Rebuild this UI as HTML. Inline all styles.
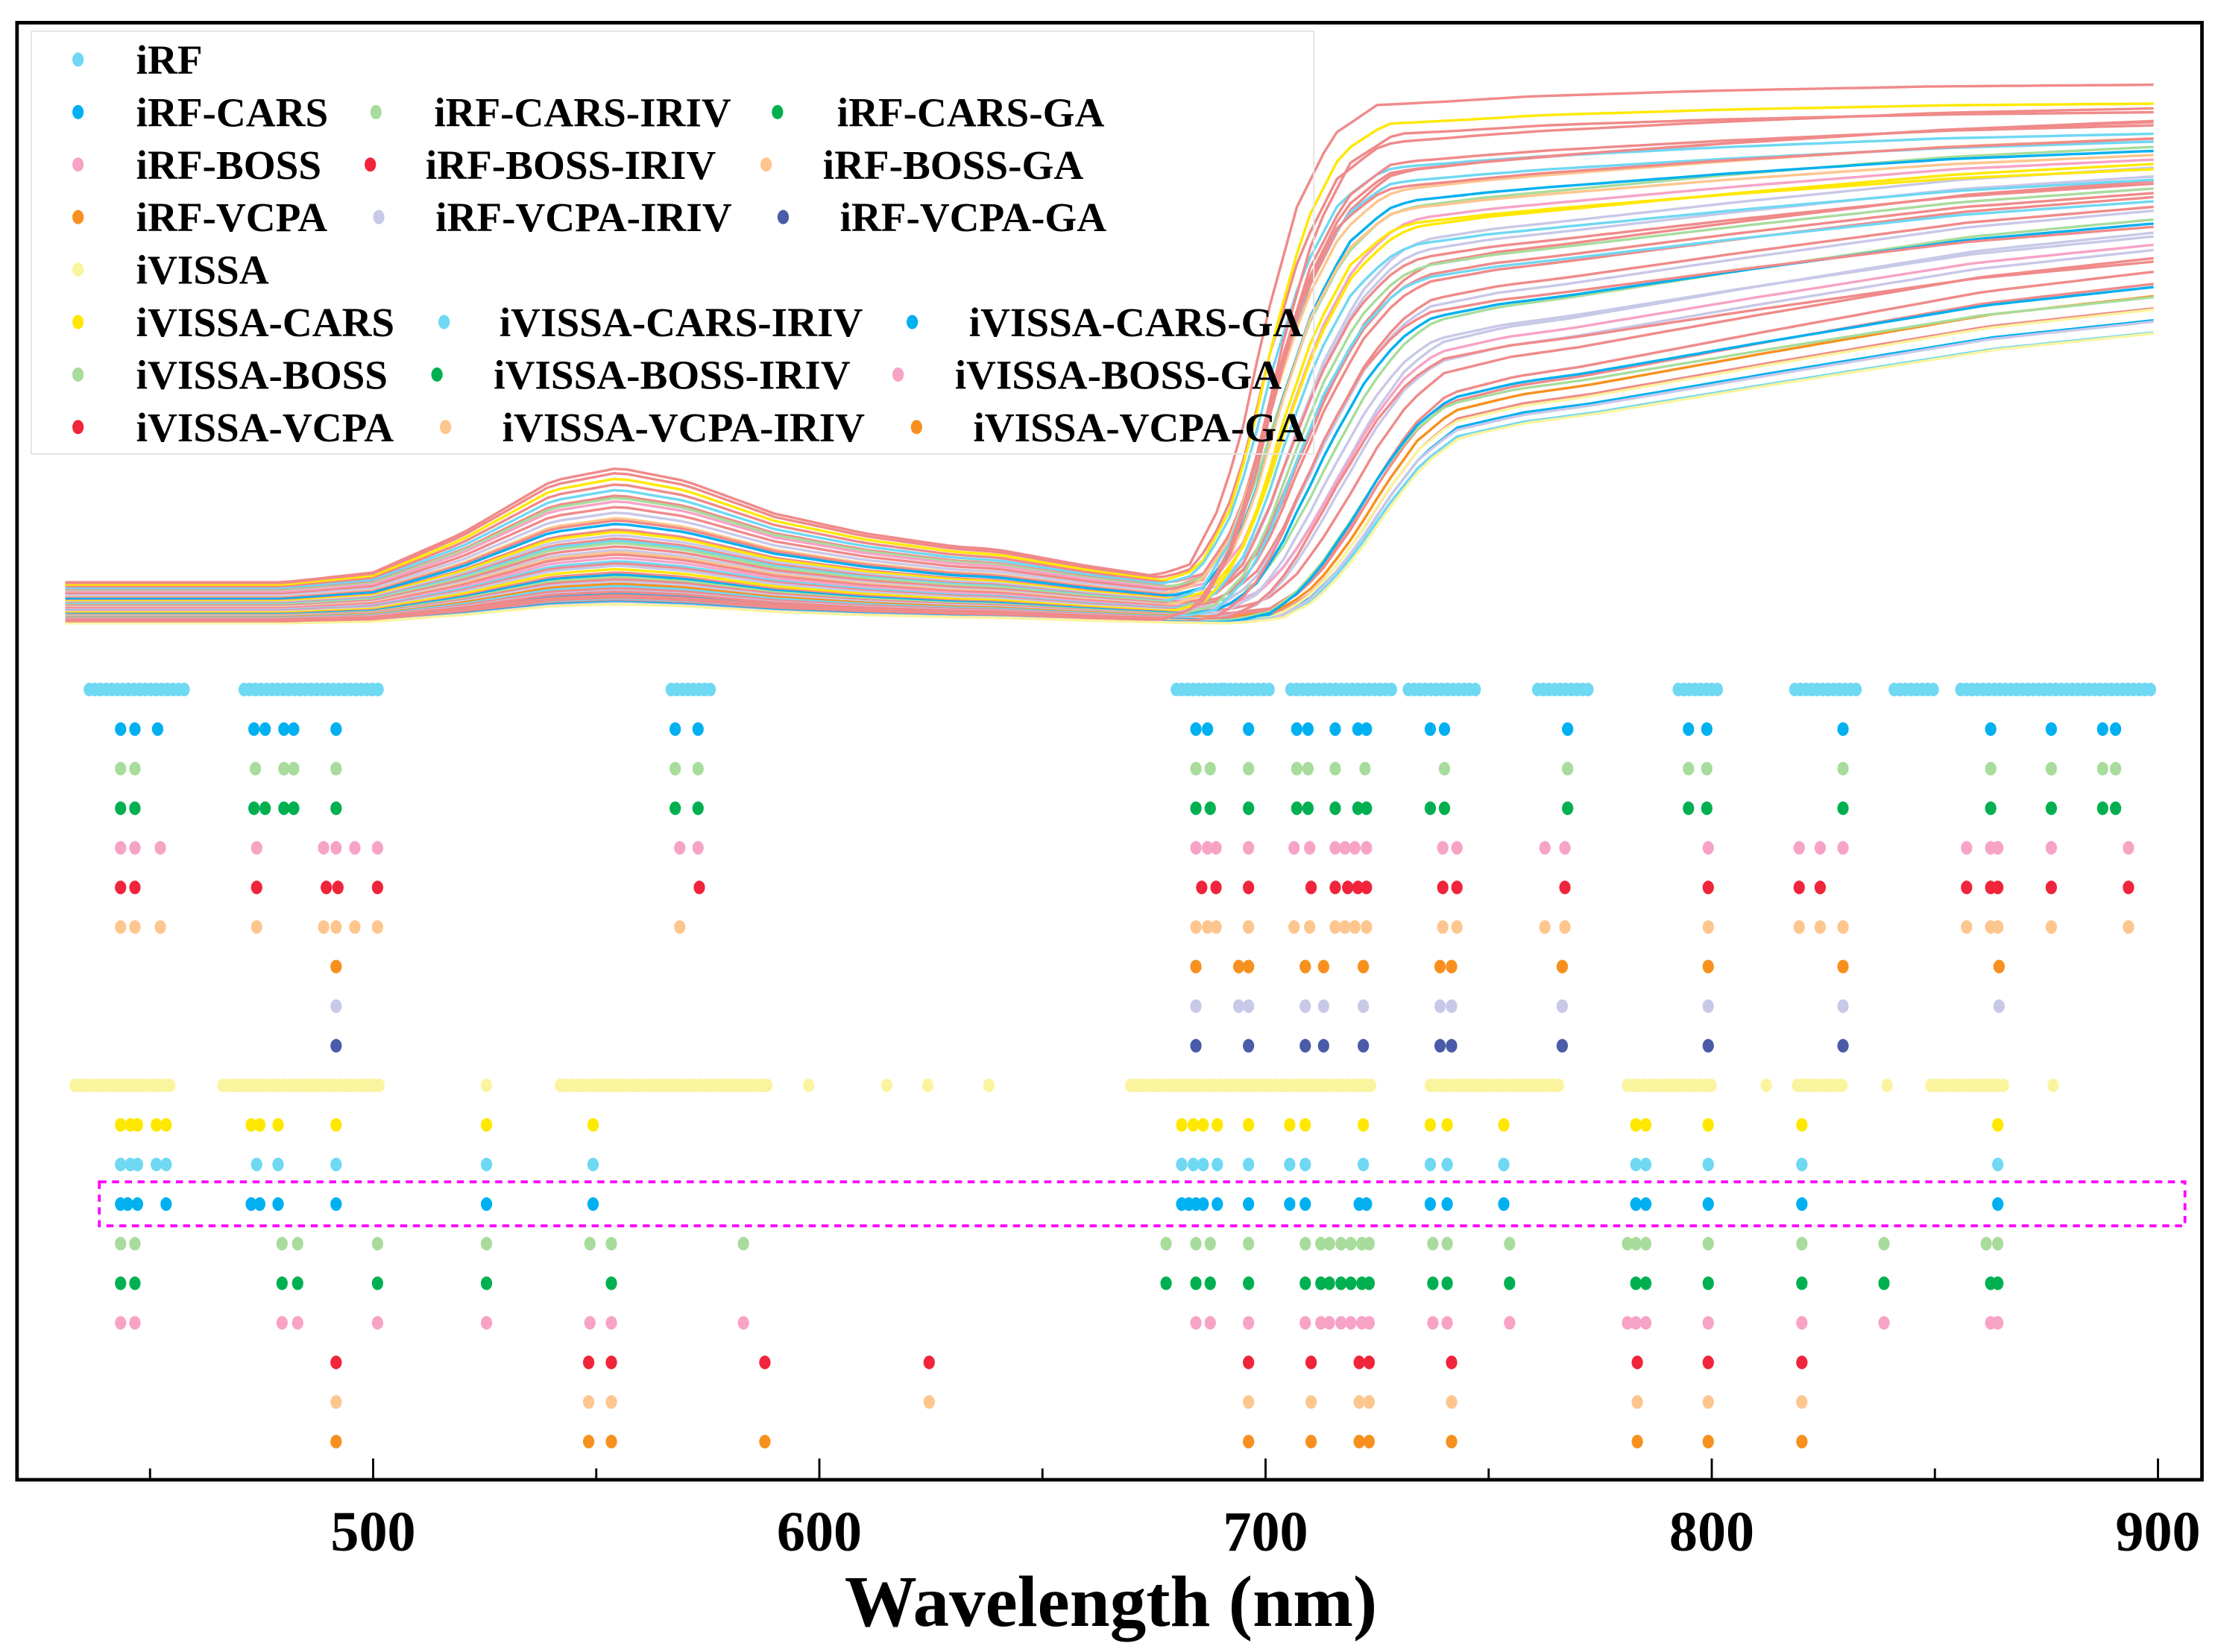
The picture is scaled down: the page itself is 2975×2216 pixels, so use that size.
<!DOCTYPE html>
<html><head><meta charset="utf-8"><style>
html,body{margin:0;padding:0;background:#fff;}
svg{display:block;}
text{font-family:"Liberation Serif",serif;font-weight:bold;fill:#000;}
</style></head><body>
<svg id="chart" width="2975" height="2216" viewBox="0 0 1563.3 1164.4" preserveAspectRatio="none" xmlns="http://www.w3.org/2000/svg">
<g id="spectra"></g>
<g id="dots"></g>
<rect x="70" y="833" width="1470" height="31" fill="none" stroke="#ff00ff" stroke-width="2" stroke-dasharray="5,4"/>
<rect x="22" y="22" width="904" height="298" fill="none" stroke="#e4e4e4" stroke-width="1"/>
<g id="legend"></g>
<rect x="12" y="16" width="1540" height="1027" fill="none" stroke="#000" stroke-width="2.5"/>
<g id="axis"></g>
<text x="783" y="1146" font-size="51" text-anchor="middle">Wavelength (nm)</text>
</svg>
<script>
// ---- data ----
const seriesNames = ["iRF","iRF-CARS","iRF-CARS-IRIV","iRF-CARS-GA","iRF-BOSS","iRF-BOSS-IRIV","iRF-BOSS-GA","iRF-VCPA","iRF-VCPA-IRIV","iRF-VCPA-GA","iVISSA","iVISSA-CARS","iVISSA-CARS-IRIV","iVISSA-CARS-GA","iVISSA-BOSS","iVISSA-BOSS-IRIV","iVISSA-BOSS-GA","iVISSA-VCPA","iVISSA-VCPA-IRIV","iVISSA-VCPA-GA"];
const seriesColors = ["#6fd8f3","#00b0f0","#a8dc9c","#00b050","#f7a3c6","#f0243a","#fdc68e","#f7901e","#c8c8e8","#4a5ba8","#fbf49e","#ffe800","#6fd8f3","#00b0f0","#a8dc9c","#00b050","#f7a3c6","#f0243a","#fdc68e","#f7901e"];
const irfBands = [[436.4,457.7],[471.1,502.2],[566.8,575.7],[680,690],[690.8,701],[705.7,729],[732,747.7],[761,773],[792.5,801.7],[818.6,833.5],[840.9,850.4],[855.8,899]];
const ivissaBands = [[433.2,454.5],[466.3,501.6],[525.4,525.4],[542,588.4],[597.6,597.6],[615.1,615.1],[624.3,624.3],[638,638],[669.8,724.2],[736.9,766.5],[781.1,800.5],[812.2,812.2],[819.2,830.4],[839.3,839.3],[849.1,865.7],[876.5,876.5]];
const irfCars = [443.4,446.6,451.7,473.3,475.8,480,482.2,491.7,567.7,572.8,684.4,687,696.2,707,709.5,715.6,720.7,722.6,736.9,740.1,767.7,794.8,798.9,829.4,862.5,876.1,887.6,890.5];
const irfCarsIriv = [443.4,446.6,473.6,480,482.2,491.7,567.7,572.8,684.4,687.6,696.2,707,709.5,715.6,722.3,740.1,767.7,794.8,798.9,829.4,862.5,876.1,887.6,890.5];
const irfCarsGa = [443.4,446.6,473.3,475.8,480,482.2,491.7,567.7,572.8,684.4,687.6,696.2,707,709.5,715.6,720.7,722.6,736.9,740.1,767.7,794.8,798.9,829.4,862.5,876.1,887.6,890.5];
const irfBoss = [443.4,446.6,452.3,473.9,488.9,491.7,495.9,501,568.7,572.8,684.4,687,688.9,696.2,706.4,709.9,715.6,717.8,720,722.6,739.7,742.9,762.6,767.1,799.2,819.6,824.3,829.4,857.1,862.5,864.1,876.1,893.4];
const irfBossIriv = [443.4,446.6,473.9,489.5,492.1,501,573.1,685.7,688.9,696.2,710.2,715.6,718.4,720.7,722.6,739.7,742.9,767.1,799.2,819.6,824.3,857.1,862.5,864.1,876.1,893.4];
const irfBossGa = [443.4,446.6,452.3,473.9,488.9,491.7,495.9,501,568.7,684.4,687,688.9,696.2,706.4,709.9,715.6,717.8,720,722.6,739.7,742.9,762.6,767.1,799.2,819.6,824.3,829.4,857.1,862.5,864.1,876.1,893.4];
const irfVcpa = [491.7,684.4,694,696.2,708.9,713,721.9,739.1,741.7,766.5,799.2,829.4,864.4];
const irfVcpaIriv = [491.7,684.4,694,696.2,708.9,713,721.9,739.1,741.7,766.5,799.2,829.4,864.4];
const irfVcpaGa = [491.7,684.4,696.2,708.9,713,721.9,739.1,741.7,766.5,799.2,829.4];
const ivCars = [443.4,445.6,447.2,451.4,453.6,472.7,474.6,478.7,491.7,525.4,549.3,681.2,683.8,686,689.2,696.2,705.4,708.9,721.9,736.9,740.7,753.4,783,785.2,799.2,820.2,864.1];
const ivCarsIriv = [443.4,445.6,447.2,451.4,453.6,473.9,478.7,491.7,525.4,549.3,681.2,683.8,686,689.2,696.2,705.4,708.9,721.9,736.9,740.7,753.4,783,785.2,799.2,820.2,864.1];
const ivCarsGa = [443.4,445,447.2,453.6,472.7,474.6,478.7,491.7,525.4,549.3,681.2,682.8,684.4,686,689.2,696.2,705.4,708.9,721,722.6,736.9,740.7,753.4,783,785.2,799.2,820.2,864.1];
const ivBoss = [443.4,446.6,479.6,483.1,501,525.4,548.6,553.4,583,677.7,684.4,687.6,696.2,708.9,712.4,714.3,716.9,719.1,721.6,723.2,737.5,740.7,754.7,781.1,783,785.2,799.2,820.2,838.6,861.5,864.1];
const ivBossIriv = [443.4,446.6,479.6,483.1,501,525.4,553.4,677.7,684.4,687.6,696.2,708.9,712.4,714.3,716.9,719.1,721.6,723.2,737.5,740.7,754.7,783,785.2,799.2,820.2,838.6,862.5,864.1];
const ivBossGa = [443.4,446.6,479.6,483.1,501,525.4,548.6,553.4,583,684.4,687.6,696.2,708.9,712.4,714.3,716.9,719.1,721.6,723.2,737.5,740.7,754.7,781.1,783,785.2,799.2,820.2,838.6,862.5,864.1];
const ivVcpa = [491.7,548.3,553.4,587.8,624.6,696.2,710.2,721,723.2,741.7,783.3,799.2,820.2];
const ivVcpaIriv = [491.7,548.3,553.4,624.6,696.2,710.2,721,723.2,741.7,783.3,799.2,820.2];
const ivVcpaGa = [491.7,548.3,553.4,587.8,696.2,710.2,721,723.2,741.7,783.3,799.2,820.2];
// spectra sample parameters
const greenPeak = [.144,.14,.135,.13,.125,.12,.118,.115,.11,.105,.1,.098,.095,.09,.088,.085,.082,.08,.078,.075,.072,.07,.068,.065,.062,.06,.058,.055,.052,.05,.048,.046,.044,.042,.04,.038,.036,.034,.032,.03,.029,.028,.027,.026,.025,.024,.03,.035];
const nirLevel = [.46,.44,.445,.43,.42,.44,.41,.40,.43,.395,.42,.385,.41,.375,.40,.39,.365,.42,.355,.385,.345,.41,.375,.335,.39,.325,.365,.40,.315,.355,.385,.305,.345,.295,.375,.285,.335,.275,.325,.295,.285,.265,.355,.305,.275,.265,.43,.445];
const edgeSlow = [0,.1,0,.2,.1,0,.3,.3,.1,.4,.2,.5,.2,.5,.3,.4,.6,.1,.7,.4,.8,.2,.5,.8,.3,.9,.6,.2,1,.6,.4,1,.7,1,.4,1,.8,1,.7,.9,1,1,.5,.9,1,1,.1,.1];
const edgeShift = [0,1,2,3,1.5,4,2.5,5,3,6,2,7,3.5,6,4.5,5.5,7.5,2.5,8,5,9,3,6.5,8.5,4.5,10,7,4,11,7.5,5.5,11,8,12,6,12.5,9,13,9.5,11,12,13,7,11.5,12.5,13.5,1.5,2.5];
const sampleColors = ["#f08a8a","#f08a8a","#ffe800","#f08a8a","#6fd8f3","#f08a8a","#a8dc9c","#f7a3c6","#f08a8a","#c8c8e8","#fdc68e","#f08a8a","#00b0f0","#f08a8a","#ffe800","#c8c8e8","#f08a8a","#6fd8f3","#a8dc9c","#f08a8a","#c8c8e8","#fdc68e","#f08a8a","#f7a3c6","#6fd8f3","#f08a8a","#c8c8e8","#ffe800","#f08a8a","#00b0f0","#a8dc9c","#f08a8a","#c8c8e8","#f7901e","#6fd8f3","#f08a8a","#c8c8e8","#00b0f0","#f08a8a","#a8dc9c","#fbf49e","#6fd8f3","#f08a8a","#00b0f0","#c8c8e8","#fbf49e","#f08a8a","#f08a8a"];
const visWl = [430,480,500,520,540,555,570,590,610,630,640,660,680,690,700,900];
const visShape = [.3,.3,.36,.6,.92,1,.92,.72,.6,.52,.5,.4,.32,.3,.3,.15];
const sharpWl = [675,683,690,695,700,707,715,725,740,760,780,800,850,900];
const nirSharp = [0,.03,.15,.3,.5,.72,.86,.92,.93,.945,.955,.965,.985,1];
const slowWl = [680,690,697,702,708,715,722,730,745,760,780,800,850,900];
const nirSlow = [0,.015,.07,.14,.25,.4,.53,.62,.67,.7,.75,.8,.92,1];
const xTicks = [500,600,700,800,900];
const xMinor = [450,550,650,750,850];

// ---- scales ----
const X = nm => 263 + (nm - 500) * 3.145;
const Y = r => 445 - r * 800;
const NS = "http://www.w3.org/2000/svg";
function interp(xs, ys, v){ if(v<=xs[0]) return ys[0]; for(let i=1;i<xs.length;i++){ if(v<=xs[i]){const t=(v-xs[i-1])/(xs[i]-xs[i-1]);return ys[i-1]+t*(ys[i]-ys[i-1]);} } return ys[ys.length-1]; }

const spec = document.getElementById('spectra');
for(let k=0;k<greenPeak.length;k++){
  let d="";
  for(let w=431; w<=900; w+=3){
    const v = greenPeak[k]*interp(visWl,visShape,w);
    const ws = w - edgeShift[k];
    const n = (1-edgeSlow[k])*interp(sharpWl,nirSharp,ws) + edgeSlow[k]*interp(slowWl,nirSlow,ws);
    const r = v + nirLevel[k]*n;
    d += (d?"L":"M") + X(w).toFixed(1) + " " + Y(r).toFixed(1);
  }
  const p = document.createElementNS(NS,'path');
  p.setAttribute('d',d); p.setAttribute('fill','none'); p.setAttribute('stroke',sampleColors[k]); p.setAttribute('stroke-width','1.8');
  
  
  spec.appendChild(p);
}

const rows = [irfBands,irfCars,irfCarsIriv,irfCarsGa,irfBoss,irfBossIriv,irfBossGa,irfVcpa,irfVcpaIriv,irfVcpaGa,ivissaBands,ivCars,ivCarsIriv,ivCarsGa,ivBoss,ivBossIriv,ivBossGa,ivVcpa,ivVcpaIriv,ivVcpaGa];
const dots = document.getElementById('dots');
rows.forEach((arr,i)=>{
  const y = 486 + i*27.9;
  const g = document.createElementNS(NS,'g');
  
  
  const pts = [];
  arr.forEach(v=>{ if(Array.isArray(v)){ for(let w=v[0]; w<=v[1]+0.01; w+=1.25) pts.push(w); } else pts.push(v); });
  pts.forEach(w=>{
    const e = document.createElementNS(NS,'ellipse');
    e.setAttribute('cx',X(w).toFixed(1)); e.setAttribute('cy',y.toFixed(1)); e.setAttribute('rx','4'); e.setAttribute('ry','4.8'); e.setAttribute('fill',seriesColors[i]);
    
    
    g.appendChild(e);
  });
  dots.appendChild(g);
});

const legendLayout = [[0,55,96,42],[1,55,96,79],[2,265,306,79],[3,548,590,79],[4,55,96,116],[5,261,300,116],[6,540,580,116],[7,55,96,153],[8,267,307,153],[9,552,592,153],[10,55,96,190],[11,55,96,227],[12,313,352,227],[13,643,683,227],[14,55,96,264],[15,308,348,264],[16,633,673,264],[17,55,96,301],[18,314,354,301],[19,646,686,301]];
const leg = document.getElementById('legend');
legendLayout.forEach(([i,mx,tx,y])=>{
  const g = document.createElementNS(NS,'g');
  
  
  const e = document.createElementNS(NS,'ellipse');
  e.setAttribute('cx',mx); e.setAttribute('cy',y); e.setAttribute('rx','4'); e.setAttribute('ry','5'); e.setAttribute('fill',seriesColors[i]);
  g.appendChild(e);
  const t = document.createElementNS(NS,'text');
  t.setAttribute('x',tx); t.setAttribute('y',y+10); t.setAttribute('font-size','29');
  t.textContent = seriesNames[i];
  g.appendChild(t);
  leg.appendChild(g);
});

const ax = document.getElementById('axis');
xTicks.forEach(v=>{
  const l = document.createElementNS(NS,'line');
  l.setAttribute('x1',X(v)); l.setAttribute('x2',X(v)); l.setAttribute('y1',1043); l.setAttribute('y2',1028); l.setAttribute('stroke','#000'); l.setAttribute('stroke-width','1.5');
  
  
  ax.appendChild(l);
  const t = document.createElementNS(NS,'text');
  t.setAttribute('x',X(v)); t.setAttribute('y',1093); t.setAttribute('font-size','40'); t.setAttribute('text-anchor','middle');
  t.textContent = v;
  
  
  ax.appendChild(t);
});
xMinor.forEach(v=>{
  const l = document.createElementNS(NS,'line');
  l.setAttribute('x1',X(v)); l.setAttribute('x2',X(v)); l.setAttribute('y1',1043); l.setAttribute('y2',1035); l.setAttribute('stroke','#000'); l.setAttribute('stroke-width','1.5');
  
  
  ax.appendChild(l);
});
</script>
</body></html>
